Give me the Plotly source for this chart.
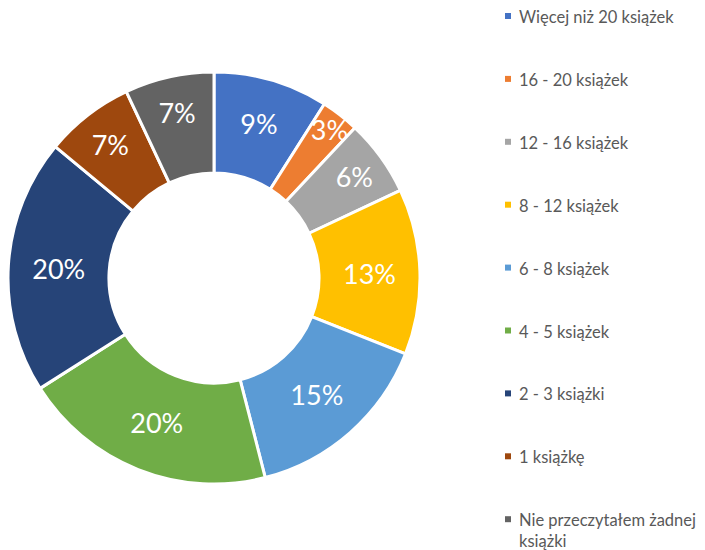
import plotly.graph_objects as go

categories = ["Więcej niż 20 książek", "16 - 20 książek", "12 - 16 książek", "8 - 12 książek",
              "6 - 8 książek", "4 - 5 książek", "2 - 3 książki", "1 książkę",
              "Nie przeczytałem żadnej książki"]
legend_labels = ["Więcej niż 20 książek", "16 - 20 książek", "12 - 16 książek", "8 - 12 książek",
                 "6 - 8 książek", "4 - 5 książek", "2 - 3 książki", "1 książkę",
                 "Nie przeczytałem żadnej<br>książki"]
values = [9, 3, 6, 13, 15, 20, 20, 7, 7]
colors = ["#4472C4", "#ED7D31", "#A5A5A5", "#FFC000", "#5B9BD5",
          "#70AD47", "#264478", "#9E480E", "#636363"]

OFF = 8  # page body margin
W, H = 705 - OFF, 550 - OFF
FONT = "Lato"


def px(x):
    return (x - OFF) / W


def py(y):
    return 1 - (y - OFF) / H


fig = go.Figure(go.Pie(
    labels=categories, values=values, sort=False, direction="clockwise", rotation=0,
    hole=0.51,
    marker=dict(colors=colors, line=dict(color="white", width=3)),
    textinfo="percent", textposition="inside", insidetextorientation="horizontal",
    textfont=dict(family=FONT, size=27, color="white"),
    domain=dict(x=[px(8), px(420)], y=[py(484), py(72)]),
    showlegend=False,
))

# manual legend
shapes, annotations = [], []
for i, (lab, col) in enumerate(zip(legend_labels, colors)):
    yc = 16 + 62.9 * i
    shapes.append(dict(type="rect", xref="paper", yref="paper",
                       x0=px(505), x1=px(511), y0=py(yc + 3), y1=py(yc - 3),
                       fillcolor=col, line=dict(width=0)))
    annotations.append(dict(xref="paper", yref="paper", x=px(517), y=py(yc - 11),
                            xanchor="left", yanchor="top", align="left", showarrow=False,
                            text=lab, font=dict(family=FONT, size=16.5, color="#595959")))

fig.update_layout(
    width=W, height=H, margin=dict(l=0, r=0, t=0, b=0),
    paper_bgcolor="white", plot_bgcolor="white",
    uniformtext=dict(minsize=27, mode="show"),
    shapes=shapes, annotations=annotations,
)

fig.write_html("out.html")
